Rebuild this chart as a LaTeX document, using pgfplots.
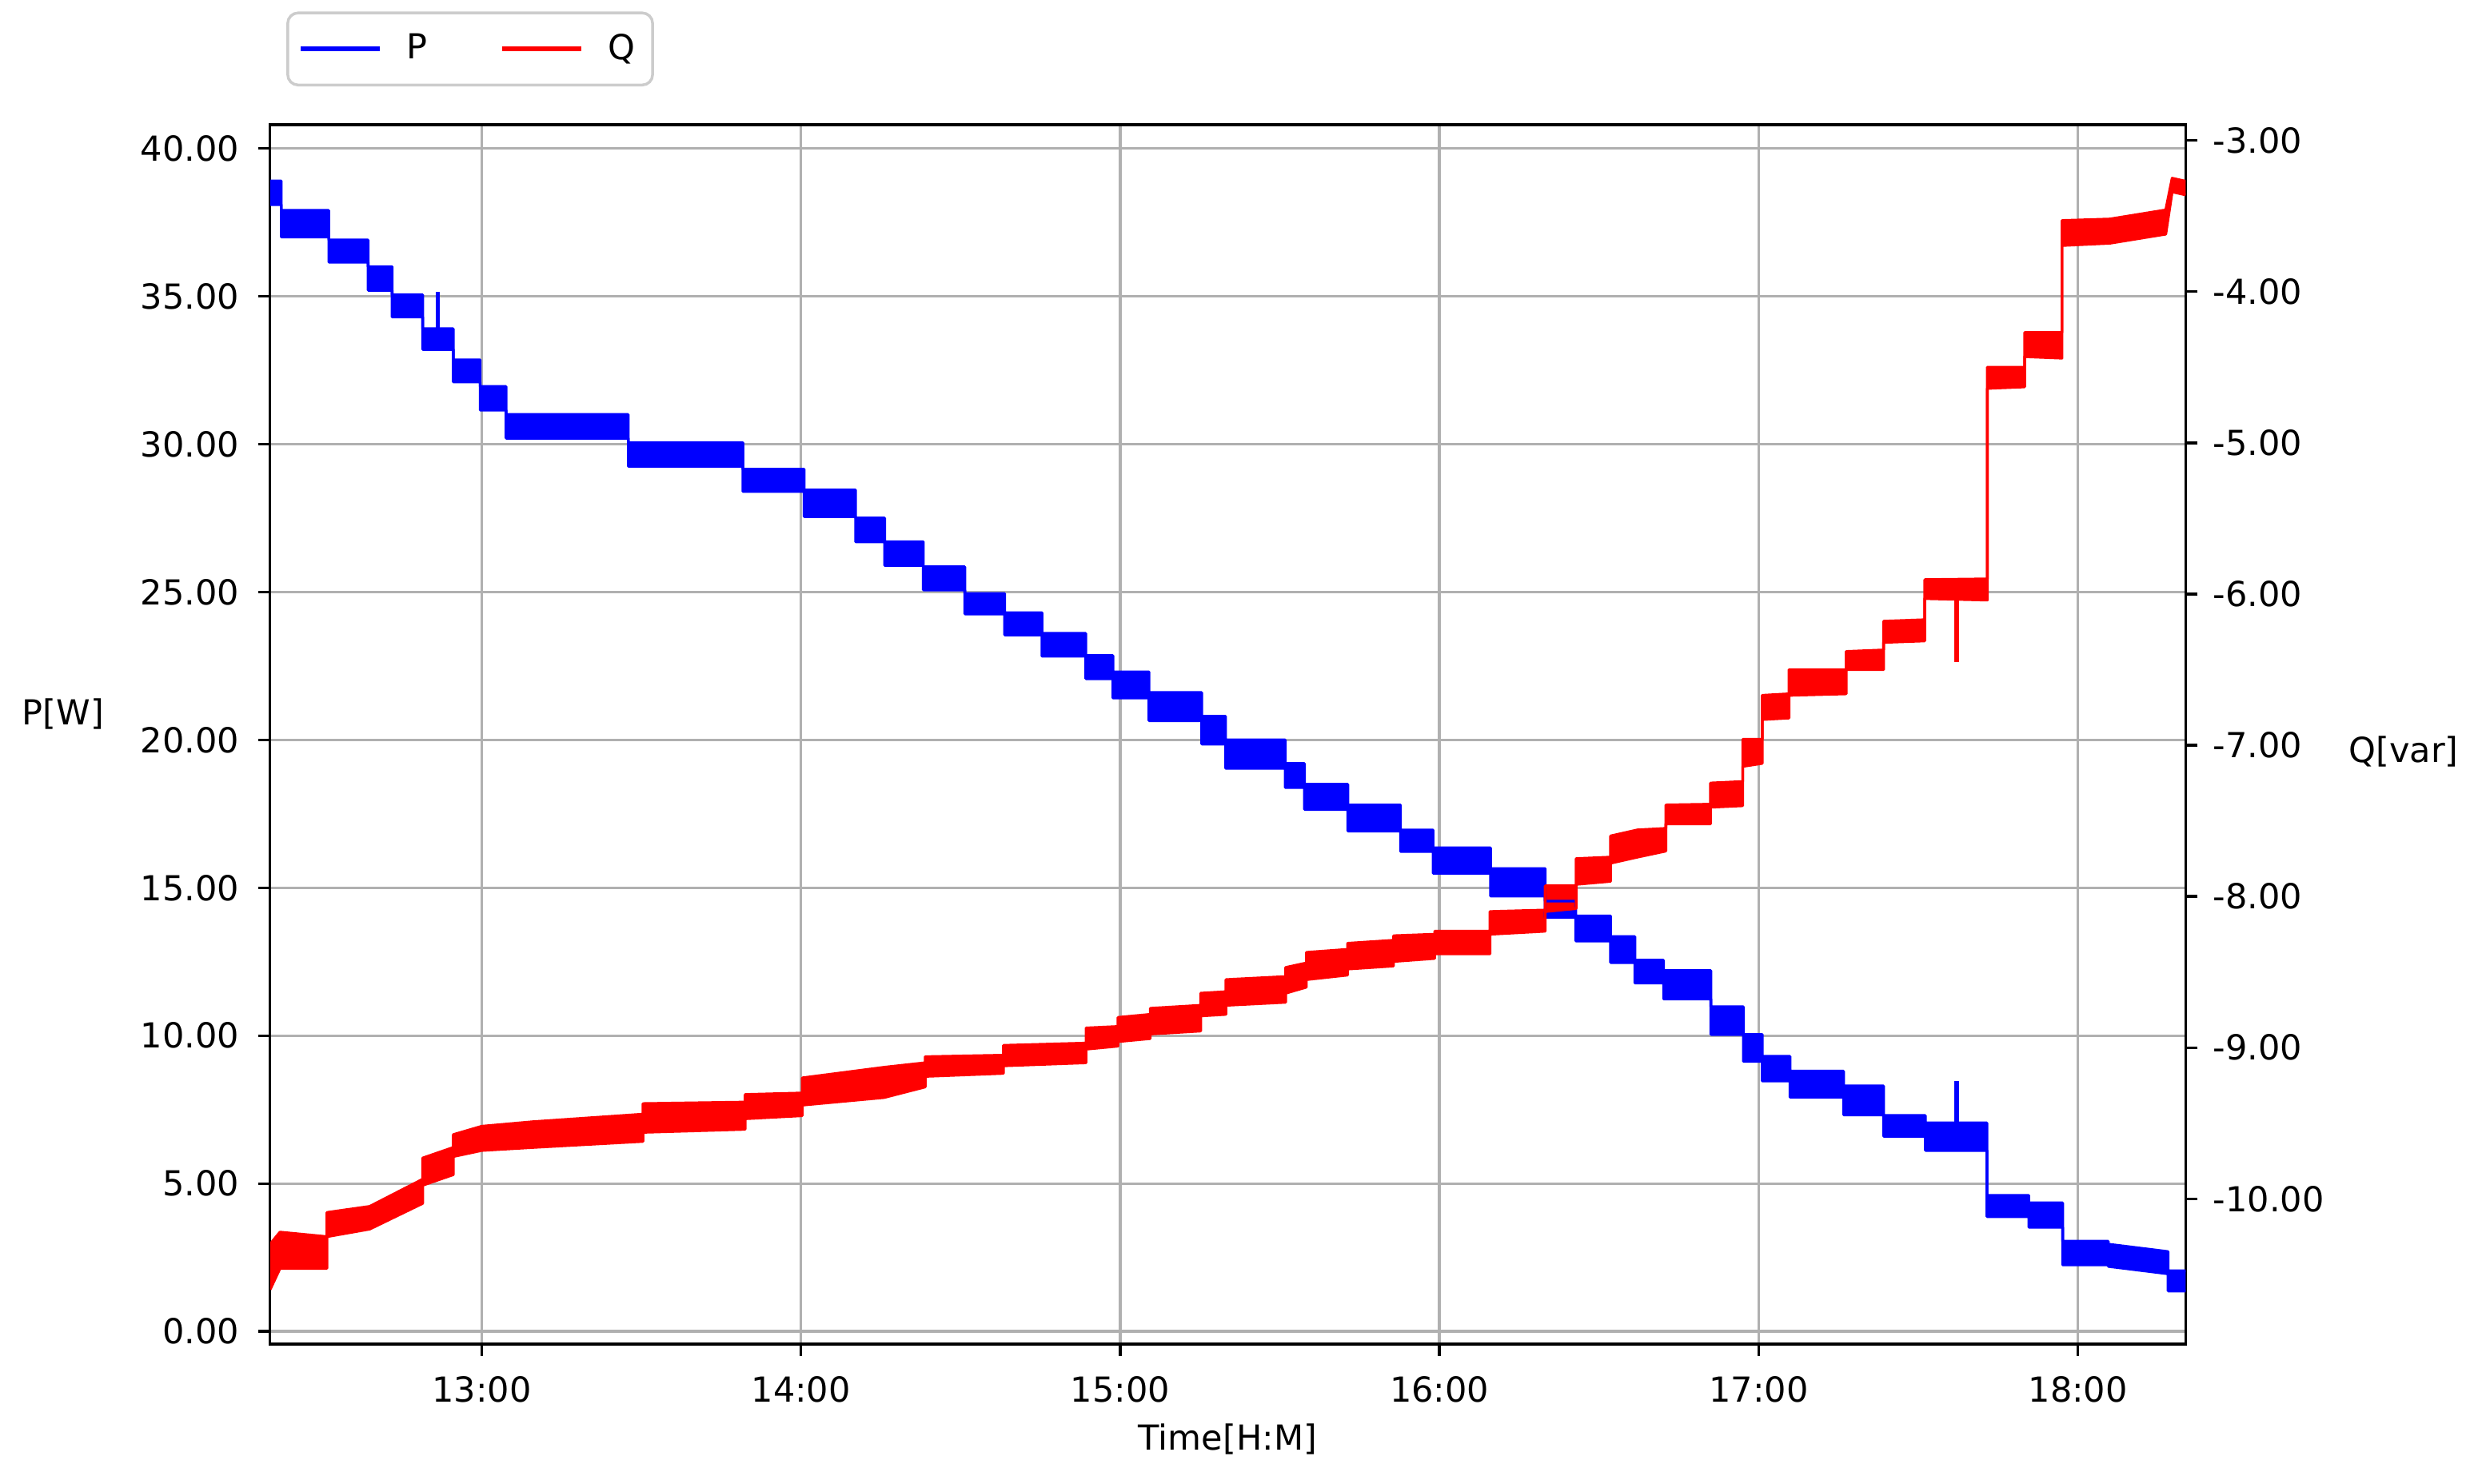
\documentclass[border=0pt]{standalone}
\usepackage{fontspec}
\setmainfont{DejaVu Sans}
\usepackage{pgfplots}
\usepackage{pgfplotstable}
\pgfplotsset{compat=1.18}
\usepgfplotslibrary{fillbetween}

% P band: time [h], lower and upper edge of the noisy band [W]
\pgfplotstableread{
t lo hi
12.337 38.10 38.90
12.372 38.10 38.90
12.372 37.00 37.90
12.521 37.00 37.90
12.521 36.15 36.90
12.644 36.15 36.90
12.644 35.20 36.00
12.719 35.20 36.00
12.719 34.30 35.05
12.815 34.30 35.05
12.815 33.20 33.90
12.911 33.20 33.90
12.911 32.10 32.85
12.995 32.10 32.85
12.995 31.15 31.95
13.076 31.15 31.95
13.076 30.20 31.00
13.459 30.20 31.00
13.459 29.25 30.05
13.818 29.25 30.05
13.818 28.40 29.15
14.010 28.40 29.15
14.010 27.55 28.45
14.171 27.55 28.45
14.171 26.70 27.50
14.262 26.70 27.50
14.262 25.90 26.70
14.383 25.90 26.70
14.383 25.07 25.85
14.513 25.07 25.85
14.513 24.26 24.95
14.638 24.26 24.95
14.638 23.55 24.30
14.755 23.55 24.30
14.755 22.83 23.60
14.892 22.83 23.60
14.892 22.07 22.85
14.977 22.07 22.85
14.977 21.42 22.30
15.090 21.42 22.30
15.090 20.65 21.60
15.255 20.65 21.60
15.255 19.86 20.80
15.330 19.86 20.80
15.330 19.04 20.00
15.517 19.04 20.00
15.517 18.39 19.20
15.577 18.39 19.20
15.577 17.65 18.50
15.713 17.65 18.50
15.713 16.92 17.80
15.878 16.92 17.80
15.878 16.23 16.95
15.980 16.23 16.95
15.980 15.49 16.35
16.160 15.49 16.35
16.160 14.72 15.65
16.331 14.72 15.65
16.331 14.00 14.55
16.427 14.00 14.55
16.427 13.20 14.05
16.536 13.20 14.05
16.536 12.47 13.35
16.612 12.47 13.35
16.612 11.78 12.55
16.702 11.78 12.55
16.702 11.24 12.20
16.850 11.24 12.20
16.850 10.04 10.98
16.952 10.04 10.98
16.952 9.13 10.04
17.011 9.13 10.04
17.011 8.47 9.30
17.098 8.47 9.30
17.098 7.92 8.80
17.266 7.92 8.80
17.266 7.32 8.30
17.391 7.32 8.30
17.391 6.60 7.30
17.522 6.60 7.30
17.522 6.12 7.05
17.715 6.12 7.05
17.715 3.88 4.60
17.846 3.88 4.60
17.846 3.52 4.35
17.952 3.52 4.35
17.952 2.25 3.05
18.095 2.25 3.05
18.095 2.20 2.95
18.282 1.95 2.70
18.282 1.37 2.05
18.337 1.37 2.05
}\Pdata

% Q band [var]
\pgfplotstableread{
t lo hi
12.337 -10.60 -10.30
12.368 -10.46 -10.22
12.515 -10.46 -10.25
12.515 -10.25 -10.09
12.649 -10.20 -10.05
12.815 -10.03 -9.87
12.815 -9.91 -9.73
12.911 -9.84 -9.66
12.911 -9.72 -9.575
13.000 -9.68 -9.52
13.160 -9.66 -9.49
13.505 -9.62 -9.44
13.505 -9.56 -9.37
13.825 -9.54 -9.36
13.825 -9.47 -9.31
14.004 -9.45 -9.30
14.004 -9.38 -9.20
14.260 -9.33 -9.13
14.389 -9.26 -9.10
14.389 -9.19 -9.06
14.634 -9.17 -9.05
14.634 -9.12 -8.985
14.893 -9.10 -8.97
14.893 -9.01 -8.87
14.993 -8.99 -8.86
14.993 -8.96 -8.80
15.094 -8.94 -8.78
15.094 -8.91 -8.74
15.252 -8.89 -8.72
15.252 -8.79 -8.64
15.331 -8.78 -8.63
15.331 -8.72 -8.55
15.518 -8.70 -8.53
15.518 -8.64 -8.47
15.583 -8.60 -8.44
15.583 -8.55 -8.37
15.712 -8.52 -8.35
15.712 -8.48 -8.31
15.856 -8.46 -8.29
15.856 -8.43 -8.26
15.985 -8.41 -8.25
15.985 -8.38 -8.23
16.158 -8.38 -8.23
16.158 -8.25 -8.10
16.331 -8.23 -8.09
16.331 -8.10 -7.93
16.428 -8.08 -7.93
16.428 -7.92 -7.75
16.536 -7.90 -7.74
16.536 -7.78 -7.60
16.620 -7.74 -7.56
16.709 -7.70 -7.55
16.709 -7.52 -7.395
16.849 -7.52 -7.39
16.849 -7.41 -7.25
16.950 -7.40 -7.24
16.950 -7.14 -6.96
17.011 -7.12 -6.96
17.011 -6.83 -6.67
17.095 -6.82 -6.66
17.095 -6.67 -6.50
17.274 -6.66 -6.50
17.274 -6.50 -6.38
17.391 -6.50 -6.37
17.391 -6.32 -6.18
17.520 -6.31 -6.17
17.520 -6.03 -5.905
17.716 -6.04 -5.90
17.716 -4.64 -4.50
17.833 -4.63 -4.50
17.833 -4.43 -4.27
17.950 -4.44 -4.27
17.950 -3.695 -3.53
18.100 -3.68 -3.52
18.275 -3.62 -3.46
18.295 -3.34 -3.25
18.337 -3.36 -3.27
}\Qdata

\pgfplotsset{
  common/.style={
    scale only axis, width=556pt, height=354pt,
    xmin=12.337, xmax=18.337,
    tick align=outside, major tick length=3.5pt,
    tick style={black, line width=0.8pt},
    axis line style={line width=0.8pt},
    tick label style={font=\fontsize{10}{12}\selectfont},
    label style={font=\fontsize{10}{12}\selectfont},
  },
}

\begin{document}
\begin{tikzpicture}

\begin{axis}[common, name=ax,
    ymin=-0.43, ymax=40.8,
    xtick={13,14,15,16,17,18},
    xticklabels={13:00,14:00,15:00,16:00,17:00,18:00},
    ytick={0,5,10,15,20,25,30,35,40},
    yticklabels={0.00,5.00,10.00,15.00,20.00,25.00,30.00,35.00,40.00},
    xtick pos=bottom, ytick pos=left,
    xticklabel style={yshift=-2.4pt},
    yticklabel style={xshift=-1.9pt},
    grid=major, grid style={color=black!31, line width=0.8pt},
    xlabel={Time[H:M]}, ylabel={P[W]},
    every axis x label/.style={at={(rel axis cs:0.5,0)}, anchor=center, yshift=-27.5pt},
    every axis y label/.style={at={(rel axis cs:0,0.517)}, anchor=center, xshift=-60.1pt},
  ]
  \addplot[blue, line width=0.8pt, line join=round, name path=Phi] table[x=t, y=hi] {\Pdata};
  \addplot[blue, line width=0.8pt, line join=round, name path=Plo] table[x=t, y=lo] {\Pdata};
  \addplot[blue] fill between[of=Phi and Plo];
  % single spikes
  \addplot[blue, line width=1.2pt] coordinates {(12.863,33.6) (12.863,35.15)};
  \addplot[blue, line width=1.2pt] coordinates {(17.620,6.9) (17.620,8.47)};
\end{axis}

\begin{axis}[common,
    ymin=-10.961, ymax=-2.896,
    axis x line=none, axis y line*=right,
    ytick={-10,-9,-8,-7,-6,-5,-4,-3},
    yticklabels={-10.00,-9.00,-8.00,-7.00,-6.00,-5.00,-4.00,-3.00},
    yticklabel style={xshift=1pt},
    ylabel={Q[var]},
    every axis y label/.style={at={(rel axis cs:1,0.486)}, anchor=center, xshift=63.3pt},
    legend columns=2,
    legend cell align=left,
    legend image code/.code={\draw[#1] (0pt,0pt) -- (23pt,0pt);},
    legend style={at={(0.0085,1.0314)}, anchor=south west,
      draw=black!20, line width=0.8pt, rounded corners=3pt,
      inner xsep=3pt, inner ysep=4pt,
      font=\fontsize{10}{12}\selectfont,
      /tikz/every odd column/.append style={column sep=5pt},
      /tikz/every even column/.append style={column sep=19pt}},
  ]
  \addlegendimage{blue, line width=1.5pt}
  \addlegendentry{P}
  \addlegendimage{red, line width=1.5pt}
  \addlegendentry{Q}
  \addplot[red, line width=0.8pt, line join=round, name path=Qhi, forget plot] table[x=t, y=hi] {\Qdata};
  \addplot[red, line width=0.8pt, line join=round, name path=Qlo, forget plot] table[x=t, y=lo] {\Qdata};
  \addplot[red, forget plot] fill between[of=Qhi and Qlo];
  \addplot[red, line width=1.2pt, forget plot] coordinates {(17.620,-5.95) (17.620,-6.45)};
\end{axis}

% page size as in the reference
\path (ax.south west) ++(-78.4pt,-40.4pt);
\path (ax.north east) ++(84.9pt,36.2pt);
\end{tikzpicture}
\end{document}
